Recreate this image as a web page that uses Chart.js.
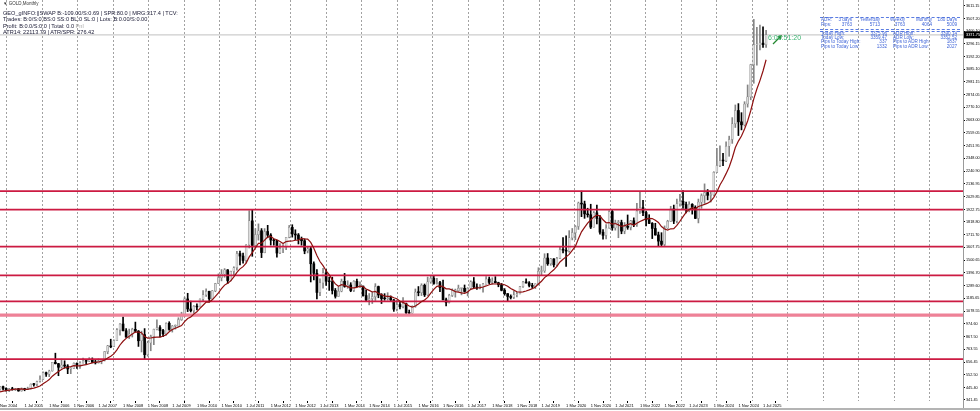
<!DOCTYPE html>
<html>
<head>
<meta charset="utf-8">
<title>GOLD,Monthly</title>
<script src="https://cdn.jsdelivr.net/npm/chart.js@4.4.1/dist/chart.umd.min.js"></script>
<style>
html, body { margin: 0; padding: 0; background: #fff; }
#wrap { position: relative; width: 980px; height: 411px; overflow: hidden; font-family: "Liberation Sans", Arial, sans-serif; }
#chart { position: absolute; left: 0; top: 0; }
.t { position: absolute; white-space: nowrap; }
.info { left: 3px; font-size: 5.6px; line-height: 6px; color: #20203a; }
.adr { font-size: 4.6px; line-height: 4.6px; color: #4166d8; }
.r { text-align: right; width: 40px; }
.dash { position: absolute; left: 820px; width: 140px; height: 0; border-top: 1px dashed #5b7de2; }
#timer { left: 768px; top: 34px; font-size: 7px; line-height: 8px; color: #3cb371; }
</style>
</head>
<body>
<div id="wrap">
  <canvas id="chart" width="980" height="411"></canvas>

  <div class="t" style="left:3px;top:0.5px;font-size:4.5px;line-height:5px;color:#333;">▼ GOLD,Monthly</div>
  <div class="t info" style="top:10px">GEO_gINFO:||SWAP B:-109.00/S:0.69 | SPR:80.0 | MRG:317.4 | TCV:</div>
  <div class="t info" style="top:16px">Trades: B:0/S:0 BS:0 SS:0 BL:0 SL:0 | Lots: B:0.00/S:0.00</div>
  <div class="t info" style="top:22.5px">Profit: B:0.0/S:0.0 | Total: 0.0 <span style="color:#aaa">Pnl</span></div>
  <div class="t info" style="top:29px">ATR14: 22113.79 | ATR/SPR: 276.42</div>

  <div class="dash" style="top:17px"></div>
  <div class="t adr" style="left:821px;top:18.4px">ADR:</div>
  <div class="t adr r" style="left:812px;top:18.4px">3 days</div>
  <div class="t adr r" style="left:840px;top:18.4px">Yesterday</div>
  <div class="t adr r" style="left:865px;top:18.4px">Weekly</div>
  <div class="t adr r" style="left:892px;top:18.4px">Monthly</div>
  <div class="t adr r" style="left:917px;top:18.4px">180 Days</div>
  <div class="t adr" style="left:821px;top:23px">Pips:</div>
  <div class="t adr r" style="left:812px;top:23px">3763</div>
  <div class="t adr r" style="left:840px;top:23px">5713</div>
  <div class="t adr r" style="left:865px;top:23px">3763</div>
  <div class="t adr r" style="left:892px;top:23px">4064</div>
  <div class="t adr r" style="left:917px;top:23px">5009</div>
  <div class="dash" style="top:29px"></div>

  <div class="dash" style="top:31px"></div>
  <div class="t adr" style="left:821px;top:31.7px">Today High:</div>
  <div class="t adr r" style="left:847px;top:31.7px">3375.96</div>
  <div class="t adr" style="left:893px;top:31.7px">ADR High:</div>
  <div class="t adr r" style="left:917px;top:31.7px">3390.14</div>
  <div class="t adr" style="left:821px;top:36px">Today Low:</div>
  <div class="t adr r" style="left:847px;top:36px">3359.47</div>
  <div class="t adr" style="left:893px;top:36px">ADR Low:</div>
  <div class="t adr r" style="left:917px;top:36px">3352.52</div>
  <div class="t adr" style="left:821px;top:40.4px">Pips to Today High:</div>
  <div class="t adr r" style="left:847px;top:40.4px">337</div>
  <div class="t adr" style="left:893px;top:40.4px">Pips to ADR High:</div>
  <div class="t adr r" style="left:917px;top:40.4px">1837</div>
  <div class="t adr" style="left:821px;top:45px">Pips to Today Low:</div>
  <div class="t adr r" style="left:847px;top:45px">1332</div>
  <div class="t adr" style="left:893px;top:45px">Pips to ADR Low:</div>
  <div class="t adr r" style="left:917px;top:45px">2027</div>

  <div class="t" id="timer">6:06:51:20</div>
</div>

<script>
// Monthly candles, index 0 = Nov 2004 ... index 249 = Aug 2025
const opens = [
    428, 452,
    438, 422, 435, 428, 435, 417, 435, 429, 433, 473, 470, 495,
    513, 568, 556, 582, 654, 643, 613, 632, 623, 599, 604, 646,
    632, 650, 665, 663, 679, 655, 650, 666, 673, 743, 790, 783,
    834, 924, 972, 916, 864, 888, 928, 913, 833, 884, 718, 815,
    868, 928, 942, 918, 890, 978, 927, 954, 955, 1008, 1040, 1180,
    1097, 1083, 1118, 1114, 1179, 1214, 1244, 1181, 1247, 1308, 1357, 1386,
    1421, 1333, 1409, 1439, 1557, 1536, 1500, 1628, 1828, 1624, 1714, 1746,
    1565, 1740, 1710, 1669, 1664, 1561, 1598, 1614, 1692, 1774, 1719, 1711,
    1675, 1663, 1578, 1596, 1472, 1393, 1234, 1314, 1396, 1327, 1323, 1250,
    1202, 1244, 1326, 1284, 1296, 1250, 1327, 1282, 1287, 1208, 1171, 1183,
    1199, 1283, 1213, 1183, 1182, 1190, 1172, 1095, 1134, 1115, 1142, 1065,
    1061, 1118, 1238, 1233, 1293, 1214, 1322, 1351, 1309, 1316, 1274, 1173,
    1151, 1210, 1249, 1249, 1268, 1268, 1242, 1269, 1322, 1279, 1271, 1275,
    1303, 1345, 1318, 1325, 1315, 1298, 1252, 1224, 1201, 1192, 1215, 1222,
    1282, 1321, 1313, 1292, 1284, 1305, 1409, 1413, 1520, 1472, 1512, 1463,
    1517, 1589, 1585, 1577, 1687, 1730, 1781, 1975, 1968, 1886, 1879, 1776,
    1895, 1848, 1734, 1708, 1769, 1906, 1770, 1814, 1814, 1743, 1783, 1774,
    1829, 1797, 1909, 1937, 1897, 1837, 1807, 1765, 1711, 1660, 1633, 1768,
    1824, 1928, 1826, 1969, 1990, 1963, 1919, 1965, 1940, 1849, 1983, 2037,
    2063, 2040, 2044, 2230, 2286, 2327, 2326, 2447, 2503, 2634, 2744, 2650,
    2625, 2798, 2857, 3124, 3289, 3289, 3303, 3290
];
const highs = [
    455, 456,
    442, 438, 447, 438, 437, 442, 439, 448, 475, 479, 499, 541,
    575, 574, 589, 654, 730, 646, 680, 667, 635, 610, 649, 650,
    660, 690, 673, 693, 691, 673, 683, 677, 745, 795, 846, 840,
    934, 976, 1032, 935, 930, 937, 988, 918, 913, 934, 830, 880,
    930, 1006, 960, 927, 982, 991, 960, 965, 1024, 1070, 1195, 1227,
    1162, 1125, 1139, 1180, 1249, 1265, 1244, 1250, 1310, 1388, 1424, 1432,
    1424, 1411, 1447, 1575, 1577, 1561, 1632, 1912, 1921, 1764, 1803, 1764,
    1764, 1791, 1722, 1676, 1667, 1640, 1631, 1692, 1790, 1796, 1754, 1723,
    1694, 1678, 1617, 1616, 1488, 1424, 1348, 1434, 1424, 1361, 1361, 1267,
    1279, 1345, 1392, 1331, 1315, 1332, 1345, 1322, 1287, 1255, 1225, 1239,
    1307, 1287, 1224, 1224, 1232, 1205, 1176, 1170, 1157, 1191, 1146, 1088,
    1123, 1263, 1283, 1306, 1304, 1362, 1375, 1367, 1352, 1326, 1337, 1188,
    1219, 1264, 1262, 1295, 1270, 1296, 1274, 1331, 1358, 1306, 1299, 1310,
    1366, 1362, 1356, 1365, 1319, 1309, 1266, 1225, 1214, 1243, 1237, 1284,
    1326, 1346, 1324, 1310, 1306, 1439, 1453, 1555, 1557, 1517, 1515, 1525,
    1611, 1689, 1704, 1747, 1765, 1789, 1984, 2075, 1992, 1933, 1966, 1906,
    1959, 1872, 1755, 1798, 1913, 1916, 1834, 1832, 1834, 1814, 1877, 1832,
    1853, 1974, 2070, 1998, 1910, 1879, 1814, 1808, 1735, 1730, 1786, 1833,
    1949, 1959, 2009, 2048, 2079, 1983, 1987, 1971, 1953, 2009, 2052, 2135,
    2088, 2065, 2236, 2431, 2450, 2388, 2483, 2531, 2685, 2790, 2801, 2726,
    2817, 2956, 3128, 3500, 3435, 3452, 3439, 3409
];
const lows = [
    422, 426,
    414, 411, 423, 420, 414, 414, 418, 429, 432, 456, 460, 490,
    513, 538, 535, 580, 640, 543, 605, 605, 560, 560, 603, 603,
    603, 648, 637, 661, 651, 640, 648, 642, 665, 725, 775, 783,
    834, 880, 915, 860, 851, 864, 905, 786, 740, 681, 705, 750,
    800, 922, 865, 866, 880, 920, 905, 930, 950, 1002, 1033, 1075,
    1072, 1045, 1088, 1113, 1165, 1200, 1155, 1180, 1240, 1307, 1330, 1360,
    1308, 1330, 1381, 1418, 1462, 1478, 1480, 1603, 1534, 1603, 1668, 1523,
    1563, 1688, 1627, 1626, 1527, 1556, 1565, 1588, 1687, 1693, 1672, 1636,
    1626, 1555, 1562, 1321, 1338, 1180, 1208, 1270, 1292, 1251, 1221, 1187,
    1202, 1239, 1277, 1268, 1240, 1241, 1281, 1273, 1204, 1160, 1131, 1142,
    1167, 1190, 1142, 1169, 1170, 1162, 1077, 1080, 1098, 1106, 1053, 1046,
    1061, 1111, 1206, 1208, 1200, 1208, 1310, 1302, 1303, 1241, 1171, 1122,
    1146, 1200, 1195, 1243, 1214, 1236, 1205, 1263, 1272, 1260, 1264, 1236,
    1302, 1307, 1303, 1313, 1281, 1247, 1211, 1160, 1180, 1183, 1196, 1221,
    1276, 1310, 1280, 1266, 1266, 1296, 1382, 1400, 1459, 1459, 1445, 1453,
    1517, 1563, 1451, 1568, 1670, 1671, 1757, 1863, 1849, 1859, 1764, 1776,
    1803, 1717, 1677, 1678, 1766, 1750, 1751, 1688, 1721, 1721, 1758, 1753,
    1780, 1782, 1890, 1872, 1787, 1805, 1681, 1709, 1615, 1617, 1616, 1765,
    1823, 1805, 1810, 1950, 1932, 1893, 1903, 1884, 1846, 1811, 1932, 1973,
    2002, 1984, 2039, 2229, 2277, 2286, 2319, 2364, 2471, 2603, 2536, 2583,
    2615, 2772, 2833, 2970, 3121, 3246, 3268, 3268
];
const closes = [
    452, 438,
    422, 435, 428, 435, 417, 435, 429, 433, 473, 470, 495, 513,
    568, 556, 582, 654, 643, 613, 632, 623, 599, 604, 646, 632,
    650, 665, 663, 679, 655, 650, 666, 673, 743, 790, 783, 834,
    924, 972, 916, 864, 888, 928, 913, 833, 884, 718, 815, 868,
    928, 942, 918, 890, 978, 927, 954, 955, 1008, 1040, 1180, 1097,
    1083, 1118, 1114, 1179, 1214, 1244, 1181, 1247, 1308, 1357, 1386, 1421,
    1333, 1409, 1439, 1557, 1536, 1500, 1628, 1828, 1624, 1714, 1746, 1565,
    1740, 1710, 1669, 1664, 1561, 1598, 1614, 1692, 1774, 1719, 1711, 1675,
    1663, 1578, 1596, 1472, 1393, 1234, 1314, 1396, 1327, 1323, 1250, 1202,
    1244, 1326, 1284, 1296, 1250, 1327, 1282, 1287, 1208, 1171, 1183, 1199,
    1283, 1213, 1183, 1182, 1190, 1172, 1095, 1134, 1115, 1142, 1065, 1061,
    1118, 1238, 1233, 1293, 1214, 1322, 1351, 1309, 1316, 1274, 1173, 1151,
    1210, 1249, 1249, 1268, 1268, 1242, 1269, 1322, 1279, 1271, 1275, 1303,
    1345, 1318, 1325, 1315, 1298, 1252, 1224, 1201, 1192, 1215, 1222, 1282,
    1321, 1313, 1292, 1284, 1305, 1409, 1413, 1520, 1472, 1512, 1463, 1517,
    1589, 1585, 1577, 1687, 1730, 1781, 1975, 1968, 1886, 1879, 1776, 1895,
    1848, 1734, 1708, 1769, 1906, 1770, 1814, 1814, 1743, 1783, 1774, 1829,
    1797, 1909, 1937, 1897, 1837, 1807, 1765, 1711, 1660, 1633, 1768, 1824,
    1928, 1826, 1969, 1990, 1963, 1919, 1965, 1940, 1849, 1983, 2037, 2063,
    2040, 2044, 2230, 2286, 2327, 2326, 2447, 2503, 2634, 2744, 2650, 2625,
    2798, 2857, 3124, 3289, 3289, 3303, 3290, 3372
];

// moving average line (dark red)
const maLine = [
    409, 415, 419, 424, 428, 432, 432, 433, 430, 429, 436, 440, 448, 458, 477, 492, 511, 539, 560, 578,
    595, 609, 613, 619, 627, 624, 625, 631, 635, 642, 649, 655, 658, 663, 674, 690, 705, 724, 758, 798,
    829, 853, 871, 889, 905, 905, 900, 868, 855, 856, 861, 863, 863, 870, 882, 908, 926, 937, 947, 959,
    992, 1017, 1031, 1054, 1074, 1102, 1128, 1154, 1154, 1173, 1201, 1231, 1265, 1295, 1310, 1330, 1363, 1401, 1430, 1448,
    1478, 1529, 1565, 1603, 1642, 1643, 1668, 1694, 1700, 1679, 1671, 1657, 1640, 1656, 1660, 1661, 1667, 1668, 1681, 1678,
    1676, 1649, 1601, 1540, 1491, 1456, 1414, 1382, 1339, 1305, 1286, 1298, 1294, 1282, 1272, 1272, 1276, 1287, 1283, 1263,
    1251, 1238, 1243, 1228, 1216, 1203, 1201, 1201, 1190, 1182, 1161, 1152, 1137, 1122, 1113, 1121, 1138, 1158, 1171, 1193,
    1229, 1260, 1285, 1289, 1282, 1264, 1263, 1254, 1241, 1236, 1230, 1226, 1238, 1260, 1268, 1271, 1274, 1279, 1288, 1298,
    1305, 1304, 1306, 1304, 1298, 1285, 1266, 1253, 1240, 1236, 1239, 1246, 1255, 1265, 1279, 1304, 1327, 1357, 1376, 1401,
    1422, 1451, 1487, 1509, 1529, 1550, 1583, 1616, 1680, 1737, 1774, 1810, 1835, 1861, 1876, 1870, 1837, 1812, 1814, 1801,
    1806, 1795, 1782, 1788, 1797, 1804, 1791, 1808, 1823, 1834, 1845, 1848, 1847, 1833, 1815, 1781, 1760, 1751, 1762, 1764,
    1790, 1825, 1863, 1898, 1923, 1938, 1928, 1947, 1956, 1965, 1975, 1990, 2023, 2067, 2126, 2169, 2220, 2275, 2350, 2437,
    2490, 2532, 2591, 2657, 2742, 2840, 2922, 2992, 3072, 3165
];

// horizontal support / resistance lines
const levelLines = [2075, 1921, 1615, 1375, 1160, 681];
const bandLines = [1046];
const lastPrice = 3371.75;

// price scale labels on the right
const yTickLabels = [
    341.45, 445.40, 552.50, 656.45, 763.55, 867.50, 974.60, 1078.55, 1185.65, 1289.60,
    1396.70, 1500.65, 1607.75, 1711.70, 1818.80, 1922.75, 2029.85, 2136.95, 2240.90, 2348.00,
    2451.95, 2559.05, 2663.00, 2770.10, 2874.05, 2981.15, 3085.10, 3192.20, 3296.15, 3400.10,
    3507.20, 3611.15
];

// time labels, one every 8 bars starting at Nov 2004
const xTickLabels = [
    'Nov 2004', '1 Jul 2005', '1 Mar 2006', '1 Nov 2006', '1 Jul 2007', '1 Mar 2008', '1 Nov 2008', '1 Jul 2009',
    '1 Mar 2010', '1 Nov 2010', '1 Jul 2011', '1 Mar 2012', '1 Nov 2012', '1 Jul 2013', '1 Mar 2014', '1 Nov 2014',
    '1 Jul 2015', '1 Mar 2016', '1 Nov 2016', '1 Jul 2017', '1 Mar 2018', '1 Nov 2018', '1 Jul 2019', '1 Mar 2020',
    '1 Nov 2020', '1 Jul 2021', '1 Mar 2022', '1 Nov 2022', '1 Jul 2023', '1 Mar 2024', '1 Nov 2024', '1 Jul 2025'
];

const X_MAX = 313;       // visible bars incl. empty space on the right
const Y_MIN = 333.15;
const Y_MAX = 3660.94;

const isBull = closes.map((c, i) => c >= opens[i]);

const wickData = highs.map((h, i) => ({ x: i, y: [lows[i], h] }));
const bodyData = closes.map((c, i) => ({ x: i, y: [opens[i], c] }));

/**
 * 右端の価格ラベル・矢印・枠線を描くプラグイン
 */
const overlayPlugin = {
    id: 'overlay',
    afterDraw(chart) {
        const ctx = chart.ctx;
        const area = chart.chartArea;
        const py = chart.scales.y.getPixelForValue(lastPrice);
        ctx.save();

        // frame
        ctx.fillStyle = '#9a9a9a';
        ctx.fillRect(area.right, 0, 1, 409);
        ctx.fillStyle = '#b4b4b4';
        ctx.fillRect(0, 408, 980, 2);

        // current price box
        ctx.fillStyle = '#000';
        ctx.fillRect(area.right + 1, py - 3.5, 17, 7);
        ctx.fillStyle = '#fff';
        ctx.font = '3.9px "Liberation Sans"';
        ctx.textBaseline = 'middle';
        ctx.fillText(lastPrice.toFixed(2), area.right + 3, py + 0.3);

        // green arrow next to the last bar
        ctx.strokeStyle = '#23872f';
        ctx.fillStyle = '#23872f';
        ctx.lineWidth = 1.2;
        ctx.beginPath();
        ctx.moveTo(773, 44);
        ctx.lineTo(779.5, 37.5);
        ctx.stroke();
        ctx.beginPath();
        ctx.moveTo(782, 35);
        ctx.lineTo(777.2, 36.3);
        ctx.lineTo(780.7, 39.8);
        ctx.closePath();
        ctx.fill();

        ctx.restore();
    }
};

const lineDataset = (value, color, width, order) => ({
    type: 'line',
    data: [{ x: 0, y: value }, { x: X_MAX, y: value }],
    borderColor: color,
    borderWidth: width,
    pointRadius: 0,
    fill: false,
    order: order
});

const datasets = [
    {
        type: 'bar',
        data: wickData,
        barThickness: 1,
        grouped: false,
        backgroundColor: isBull.map(b => b ? '#858585' : '#000000'),
        order: 3
    },
    {
        type: 'bar',
        data: bodyData,
        barThickness: 2,
        grouped: false,
        minBarLength: 0.8,
        borderSkipped: false,
        backgroundColor: isBull.map(b => b ? '#dcdcdc' : '#000000'),
        borderColor: isBull.map(b => b ? '#858585' : '#000000'),
        borderWidth: isBull.map(b => b ? 0.5 : 0),
        order: 2
    },
    {
        type: 'line',
        data: maLine.map((v, i) => ({ x: i, y: v })),
        borderColor: '#8e1010',
        borderWidth: 1.2,
        pointRadius: 0,
        fill: false,
        order: 0
    },
    lineDataset(lastPrice, '#cdcdcd', 1.3, 5)
];
levelLines.forEach(v => datasets.push(lineDataset(v, '#cc1a42', 1.8, 1)));
bandLines.forEach(v => datasets.push(lineDataset(v, '#ee8197', 3.2, 1)));

const ctx = document.getElementById('chart');
const goldChart = new Chart(ctx, {
    type: 'bar',
    data: { datasets: datasets },
    options: {
        responsive: false,
        animation: false,
        devicePixelRatio: 1,
        layout: { padding: 0 },
        plugins: {
            legend: { display: false },
            tooltip: { enabled: false }
        },
        scales: {
            x: {
                type: 'linear',
                position: 'bottom',
                min: 0,
                max: X_MAX,
                offset: false,
                afterBuildTicks: scale => {
                    scale.ticks = xTickLabels.map((_, i) => ({ value: i * 8 }));
                },
                afterFit: scale => {
                    scale.height = 10;
                    scale.paddingLeft = 0;
                    scale.paddingRight = 0;
                },
                ticks: {
                    autoSkip: false,
                    maxRotation: 0,
                    minRotation: 0,
                    align: 'start',
                    padding: 0,
                    color: '#000',
                    font: { family: 'Liberation Sans', size: 4 },
                    callback: value => xTickLabels[Math.round(value / 8)]
                },
                grid: { drawOnChartArea: false, tickLength: 2, tickColor: '#000' },
                border: { display: false }
            },
            // yearly dotted grid lines (January)
            xGrid: {
                type: 'linear',
                position: 'top',
                min: 0,
                max: X_MAX,
                afterBuildTicks: scale => {
                    const t = [];
                    for (let v = 2; v <= X_MAX; v += 12) t.push({ value: v });
                    scale.ticks = t;
                },
                afterFit: scale => {
                    scale.height = 0;
                    scale.paddingLeft = 0;
                    scale.paddingRight = 0;
                },
                ticks: { display: false },
                grid: { color: '#a2a2a2', lineWidth: 1, drawTicks: false },
                border: { display: false, dash: [2, 2] }
            },
            y: {
                type: 'linear',
                position: 'right',
                min: Y_MIN,
                max: Y_MAX,
                afterBuildTicks: scale => {
                    scale.ticks = yTickLabels.map(v => ({ value: v }));
                },
                afterFit: scale => {
                    scale.width = 17;
                    scale.paddingTop = 0;
                    scale.paddingBottom = 0;
                },
                ticks: {
                    autoSkip: false,
                    padding: 1,
                    color: '#000',
                    font: { family: 'Liberation Sans', size: 3.8 },
                    callback: value => value.toFixed(2)
                },
                grid: { drawOnChartArea: false, tickLength: 2, tickColor: '#000' },
                border: { display: false }
            }
        }
    },
    plugins: [overlayPlugin]
});
</script>
</body>
</html>
